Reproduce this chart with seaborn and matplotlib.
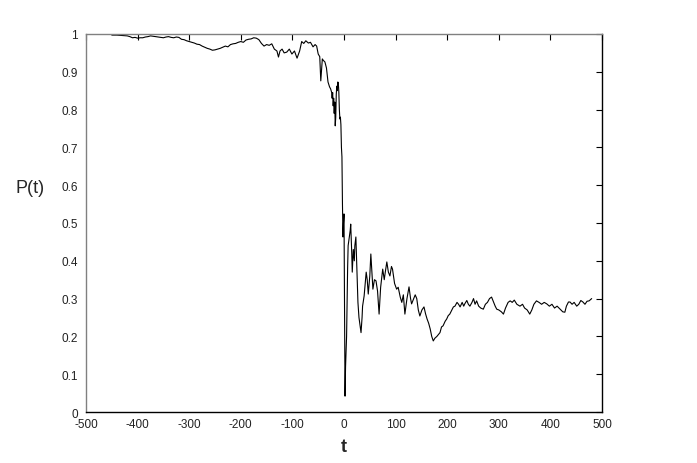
import pandas as pd
import matplotlib
matplotlib.use('Agg')
import matplotlib.pyplot as plt
import seaborn as sns

# values
t_vals = [-450, -440, -430, -420, -415, -410, -405, -400, -395, -390, -385, -380, -375, -370,
          -365, -360, -355, -350, -345, -340, -335, -330, -325, -320, -315, -310, -305, -300,
          -295, -290, -285, -280, -275, -270, -265, -260, -255, -250, -245, -240, -235, -230,
          -225, -220, -215, -210, -205, -200, -195, -190, -185, -180,
          -175, -170, -165, -160, -155, -150, -145, -140, -135, -130, -127, -124, -120, -116,
          -111, -106, -101, -96, -91, -86, -82, -78, -74, -69, -65, -60, -56, -53, -50, -47,
          -45, -42, -40, -37, -34, -31, -28, -26, -24, -23, -22, -21, -20, -19, -18, -17, -16,
          -15, -14, -13, -12, -11, -10, -9, -8, -7, -6,
          -5, -4, -3, -2, -1, 0, 1, 2, 3, 5, 7, 8, 10, 12, 13, 15, 16, 18, 20, 21, 23, 25,
          27, 29, 31, 33, 35, 36, 39, 41, 43, 45, 47, 50, 52, 54, 56, 59, 62, 65, 68, 71, 75,
          78, 80, 83, 86, 89, 92, 94, 98, 102, 105, 109, 112, 115, 118, 122, 126, 129, 131,
          135, 138, 141, 144, 147, 151, 155, 158, 161, 164, 167, 170, 173, 176, 180, 183,
          186, 189, 192, 196, 199, 202, 205, 209, 212, 215, 219, 222, 225, 229, 232, 234,
          238, 241, 244, 248, 251, 254, 257, 261, 265, 270, 274, 278, 282, 286, 290, 293,
          296, 300, 305, 309, 313, 318, 322, 326, 330, 335, 341, 346, 350, 355, 360, 364,
          368, 373, 378, 383, 388, 393, 398, 403, 408, 413, 419, 424, 428, 431, 435, 438,
          442, 446, 451, 455, 459, 463, 467, 471, 475, 480]
p_vals = [0.997, 0.997, 0.996, 0.995, 0.993, 0.99, 0.991, 0.989, 0.99, 0.99, 0.992, 0.993, 0.995, 0.994,
          0.993, 0.992, 0.991, 0.99, 0.992, 0.993, 0.991, 0.99, 0.992, 0.991, 0.986, 0.985, 0.982, 0.98,
          0.978, 0.976, 0.973, 0.972, 0.968, 0.965, 0.962, 0.96, 0.957, 0.958, 0.96, 0.962, 0.965, 0.968,
          0.966, 0.972, 0.974, 0.975, 0.978, 0.98, 0.978, 0.984, 0.986, 0.987,
          0.99, 0.989, 0.985, 0.975, 0.968, 0.972, 0.97, 0.974, 0.96, 0.955, 0.939, 0.955, 0.96, 0.95,
          0.952, 0.96, 0.947, 0.955, 0.936, 0.955, 0.98, 0.975, 0.982, 0.976, 0.978, 0.966, 0.972, 0.968, 0.947, 0.94,
          0.876, 0.934, 0.93, 0.926, 0.91, 0.873, 0.86, 0.855, 0.846, 0.83, 0.845, 0.81, 0.83, 0.79, 0.82, 0.757, 0.78,
          0.84, 0.862, 0.85, 0.873, 0.87, 0.846, 0.8, 0.775, 0.78, 0.76,
          0.7, 0.675, 0.55, 0.463, 0.5, 0.524, 0.3, 0.042, 0.12, 0.2, 0.38, 0.44, 0.46, 0.48, 0.497, 0.42, 0.37, 0.43, 0.4, 0.44, 0.463, 0.38,
          0.29, 0.25, 0.23, 0.21, 0.25, 0.28, 0.307, 0.34, 0.37, 0.35, 0.312, 0.36, 0.418, 0.37, 0.325, 0.35, 0.347, 0.32, 0.259, 0.33, 0.378,
          0.35, 0.37, 0.397, 0.37, 0.36, 0.385, 0.378, 0.34, 0.325, 0.33, 0.304, 0.29, 0.31, 0.259, 0.3, 0.331, 0.3, 0.286,
          0.3, 0.31, 0.3, 0.27, 0.254, 0.27, 0.278, 0.26, 0.246, 0.235, 0.22, 0.2, 0.188, 0.195, 0.2, 0.205,
          0.21, 0.225, 0.228, 0.24, 0.246, 0.255, 0.259, 0.27, 0.278, 0.28, 0.29, 0.285, 0.278, 0.29, 0.28, 0.286,
          0.295, 0.285, 0.28, 0.29, 0.3, 0.285, 0.294, 0.28, 0.275, 0.272, 0.285, 0.29, 0.3, 0.304, 0.29, 0.28,
          0.272, 0.27, 0.265, 0.259, 0.275, 0.29, 0.294, 0.29, 0.296, 0.285, 0.28, 0.285, 0.275, 0.27, 0.259, 0.27,
          0.285, 0.294, 0.29, 0.285, 0.29, 0.286, 0.28, 0.285, 0.275, 0.28, 0.272, 0.265, 0.264, 0.28, 0.291, 0.291,
          0.285, 0.29, 0.28, 0.285, 0.295, 0.291, 0.285, 0.293, 0.294, 0.3]
x_ticks = list(range(-500, 501, 100))
y_ticks = [0, 0.1, 0.2, 0.3, 0.4, 0.5, 0.6, 0.7, 0.8, 0.9, 1]
y_labels = ['0', '0.1', '0.2', '0.3', '0.4', '0.5', '0.6', '0.7', '0.8', '0.9', '1']

df = pd.DataFrame({'t': t_vals, 'P': p_vals})

sns.set_style('white')
plt.rcParams['font.family'] = ['Liberation Sans', 'DejaVu Sans']
plt.rcParams['axes.unicode_minus'] = False

fig = plt.figure(figsize=(6.97, 4.64), dpi=100)
ax = fig.add_axes([0.1234, 0.1099, 0.7403, 0.8147])

sns.lineplot(data=df, x='t', y='P', color='black', linewidth=0.8, ax=ax)

ax.set_xlim(-500, 500)
ax.set_ylim(0, 1)
ax.set_xticks(x_ticks)
ax.set_yticks(y_ticks)
ax.set_yticklabels(y_labels)
ax.tick_params(direction='in', length=4, width=0.8, top=True, right=True,
               labelsize=8.5, colors='black', labelcolor='#222222')
ax.tick_params(axis='x', pad=4)
ax.tick_params(axis='y', pad=6)

for side in ['top', 'left']:
    ax.spines[side].set_color('#808080')
for side in ['right', 'bottom']:
    ax.spines[side].set_color('black')
for s in ax.spines.values():
    s.set_linewidth(1.0)

ax.set_xlabel('t', fontsize=13, fontweight='bold', labelpad=6)
ax.set_ylabel('P(t)', fontsize=13, rotation=0, va='center', ha='center')
ax.yaxis.set_label_coords(-0.108, 0.595)

plt.savefig('out.png', dpi=100)
